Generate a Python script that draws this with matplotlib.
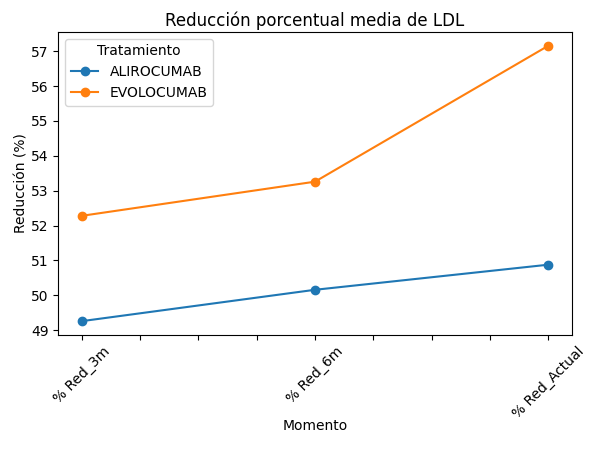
import numpy as np
import matplotlib
matplotlib.use("Agg")
import matplotlib.pyplot as plt

momentos = ["% Red_3m", "% Red_6m", "% Red_Actual"]
alirocumab = [49.26, 50.16, 50.88]
evolocumab = [52.28, 53.26, 57.16]

fig = plt.figure(figsize=(6, 4.49), dpi=100)
ax = fig.add_axes([0.097, 0.254, 0.856, 0.675])

x = np.arange(len(momentos))
ax.plot(x, alirocumab, marker="o", label="ALIROCUMAB")
ax.plot(x, evolocumab, marker="o", label="EVOLOCUMAB")

# ticks cada 0.25 pero con etiqueta solo en las categorias
ticks = np.arange(0, 2.01, 0.25)
labels = [momentos[int(t)] if t == int(t) else "" for t in ticks]
ax.set_xticks(ticks)
ax.set_xticklabels(labels, rotation=45)

ax.set_title("Reducción porcentual media de LDL", pad=4)
ax.set_xlabel("Momento", labelpad=-2)
ax.set_ylabel("Reducción (%)", labelpad=2)
ax.legend(title="Tratamiento", loc="upper left")

fig.savefig("out.png", dpi=100)
